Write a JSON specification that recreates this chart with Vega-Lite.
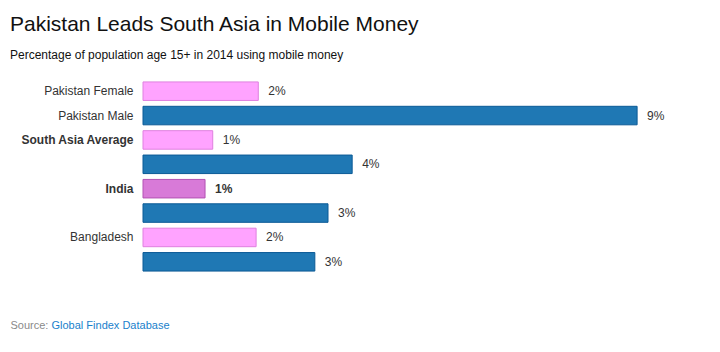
{
  "$schema": "https://vega.github.io/schema/vega-lite/v6.json",
  "width": 549,
  "height": 195,
  "autosize": "none",
  "padding": {"left": 143, "top": 79, "right": 28, "bottom": 78},
  "background": "white",
  "config": {"view": {"stroke": null}, "font": "Liberation Sans"},
  "title": {
    "text": "Pakistan Leads South Asia in Mobile Money",
    "subtitle": "Percentage of population age 15+ in 2014 using mobile money",
    "anchor": "start",
    "frame": "group",
    "dx": -133,
    "offset": 18,
    "font": "Liberation Sans",
    "fontSize": 21,
    "fontWeight": "normal",
    "color": "#111111",
    "subtitleFont": "Liberation Sans",
    "subtitleFontSize": 12,
    "subtitleColor": "#111111",
    "subtitlePadding": 15
  },
  "data": {
    "values": [
      {"name": "Pakistan Female", "group": "female", "value": 0.021},
      {"name": "Pakistan Male", "group": "male", "value": 0.09},
      {"name": "South Asia Average", "group": "female", "value": 0.0127},
      {"name": "South Asia Average Male", "group": "male", "value": 0.0381},
      {"name": "India", "group": "highlight", "value": 0.0113},
      {"name": "India Male", "group": "male", "value": 0.0337},
      {"name": "Bangladesh", "group": "female", "value": 0.0206},
      {"name": "Bangladesh Male", "group": "male", "value": 0.0313}
    ]
  },
  "encoding": {
    "y": {
      "field": "name",
      "type": "nominal",
      "sort": null,
      "scale": {"paddingInner": 0.24, "paddingOuter": 0.12},
      "axis": {
        "title": null,
        "domain": false,
        "ticks": false,
        "labelPadding": 10,
        "labelFontSize": 12,
        "labelColor": "#333333",
        "labelFont": "Liberation Sans",
        "labelExpr": "datum.value == 'Pakistan Male' || indexof(datum.value, ' Male') < 0 ? datum.value : ''",
        "labelFontWeight": {"condition": {"test": "datum.value == 'South Asia Average' || datum.value == 'India'", "value": "bold"}, "value": "normal"}
      }
    }
  },
  "layer": [
    {
      "mark": {"type": "bar", "strokeWidth": 1},
      "encoding": {
        "x": {
          "field": "value",
          "type": "quantitative",
          "scale": {"domain": [0, 0.1], "nice": false},
          "axis": {
            "orient": "bottom",
            "labels": false,
            "ticks": false,
            "domain": false,
            "grid": false,
            "title": "Source:",
            "titleX": -133,
            "titleY": 54,
            "titleAlign": "left",
            "titleAnchor": null,
            "titleBaseline": "alphabetic",
            "titleFont": "Liberation Sans",
            "titleFontSize": 11,
            "titleFontWeight": "normal",
            "titleColor": "#8a8a8a"
          }
        },
        "fill": {
          "field": "group",
          "type": "nominal",
          "scale": {"domain": ["female", "male", "highlight"], "range": ["#ffa3ff", "#1f78b4", "#d87ad8"]},
          "legend": null
        },
        "stroke": {
          "field": "group",
          "type": "nominal",
          "scale": {"domain": ["female", "male", "highlight"], "range": ["#df80df", "#0b5a96", "#b352b3"]},
          "legend": null
        }
      }
    },
    {
      "transform": [{"filter": "datum.name != 'India'"}],
      "mark": {"type": "text", "align": "left", "baseline": "middle", "dx": 10, "fontSize": 12, "color": "#333333", "font": "Liberation Sans"},
      "encoding": {
        "x": {
          "field": "value",
          "type": "quantitative",
          "scale": {"domain": [0, 0.1], "nice": false},
          "axis": {
            "orient": "bottom",
            "labels": false,
            "ticks": false,
            "domain": false,
            "grid": false,
            "title": "Global Findex Database",
            "titleX": -92,
            "titleY": 54,
            "titleAlign": "left",
            "titleAnchor": null,
            "titleBaseline": "alphabetic",
            "titleFont": "Liberation Sans",
            "titleFontSize": 11,
            "titleFontWeight": "normal",
            "titleColor": "#1a7fcc"
          }
        },
        "text": {"field": "value", "type": "quantitative", "format": ".0%"}
      }
    },
    {
      "transform": [{"filter": "datum.name == 'India'"}],
      "mark": {"type": "text", "align": "left", "baseline": "middle", "dx": 10, "fontSize": 12, "fontWeight": "bold", "color": "#333333", "font": "Liberation Sans"},
      "encoding": {
        "x": {
          "field": "value",
          "type": "quantitative",
          "scale": {"domain": [0, 0.1], "nice": false},
          "axis": null
        },
        "text": {"field": "value", "type": "quantitative", "format": ".0%"}
      }
    }
  ],
  "resolve": {"scale": {"x": "independent", "fill": "independent", "stroke": "independent"}}
}
